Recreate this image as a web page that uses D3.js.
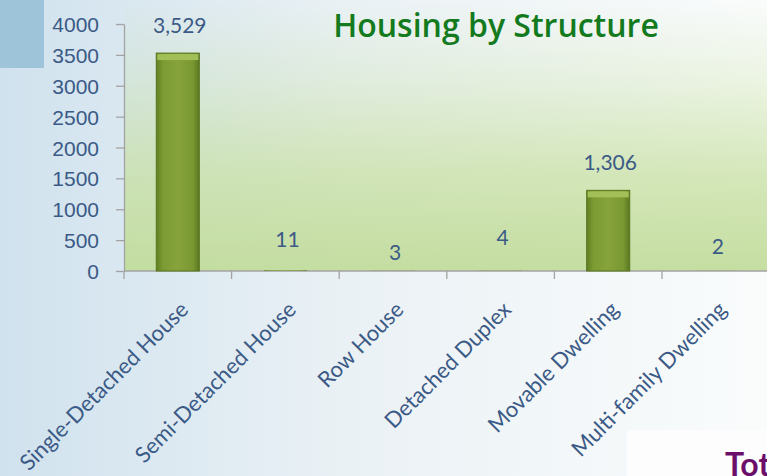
<!DOCTYPE html>
<html>
<head>
<meta charset="utf-8">
<script src="https://cdn.jsdelivr.net/npm/d3@7"></script>
<style>
  html, body { margin: 0; padding: 0; overflow: hidden; }
  svg { display: block; font-family: Lato, "Open Sans", sans-serif; }
</style>
</head>
<body>
<svg id="chart" width="767" height="476"></svg>
<script>
/// Housing by Structure bar chart ///

const categories = ["Single-Detached House", "Semi-Detached House", "Row House",
                    "Detached Duplex", "Movable Dwelling", "Multi-family Dwelling"];
const counts = [3529, 11, 3, 4, 1306, 2];
const yTicks = [0, 500, 1000, 1500, 2000, 2500, 3000, 3500, 4000];
const title = "Housing by Structure";
const footerText = "Total";

const W = 767, H = 476;
const svg = d3.select("#chart");
const defs = svg.append("defs");

// gradients
let bg = defs.append("linearGradient").attr("id", "bg").attr("x1", 0).attr("x2", 1).attr("y1", 0).attr("y2", 0);
bg.append("stop").attr("offset", 0).attr("stop-color", "#d0e2ee");
bg.append("stop").attr("offset", 0.45).attr("stop-color", "#eaf1f5");
bg.append("stop").attr("offset", 1).attr("stop-color", "#fafcfc");

let plotBg = defs.append("linearGradient").attr("id", "plotBg").attr("x1", 0).attr("x2", 0).attr("y1", 0).attr("y2", 1);
plotBg.append("stop").attr("offset", 0).attr("stop-color", "#c6df9f").attr("stop-opacity", 0);
plotBg.append("stop").attr("offset", 0.3).attr("stop-color", "#c6df9f").attr("stop-opacity", 0.28);
plotBg.append("stop").attr("offset", 0.65).attr("stop-color", "#c6df9f").attr("stop-opacity", 0.72);
plotBg.append("stop").attr("offset", 1).attr("stop-color", "#c2dc9c").attr("stop-opacity", 0.95);

let barGrad = defs.append("linearGradient").attr("id", "barGrad").attr("x1", 0).attr("x2", 1).attr("y1", 0).attr("y2", 0);
barGrad.append("stop").attr("offset", 0).attr("stop-color", "#5f7f22");
barGrad.append("stop").attr("offset", 0.15).attr("stop-color", "#7c9b33");
barGrad.append("stop").attr("offset", 0.5).attr("stop-color", "#86a33c");
barGrad.append("stop").attr("offset", 0.85).attr("stop-color", "#7a9832");
barGrad.append("stop").attr("offset", 1).attr("stop-color", "#5a7820");

svg.append("rect").attr("width", W).attr("height", H).attr("fill", "url(#bg)");

// top-left blue block
svg.append("rect").attr("x", 0).attr("y", 0).attr("width", 44).attr("height", 68).attr("fill", "#9dc4d9");

let x = d3.scaleBand().domain(categories).range([124, 769.6]).paddingInner(0.6).paddingOuter(0.3);
let y = d3.scaleLinear().domain([0, 4000]).range([271, 24]);
let edge = d => x(d) - x.step() * x.paddingOuter();

// plot area
svg.append("rect").attr("x", 124).attr("y", 0).attr("width", W - 124).attr("height", y(0))
    .attr("fill", "url(#plotBg)");

// y axis
let yAxis = svg.append("g").attr("transform", "translate(124,0)")
    .call(d3.axisLeft(y).tickValues(yTicks).tickSize(8).tickSizeOuter(0).tickPadding(17).tickFormat(d3.format("d")));
yAxis.select(".domain").attr("stroke", "#a3a3a3").attr("stroke-width", 1.3);
yAxis.selectAll(".tick line").attr("stroke", "#a3a3a3").attr("stroke-width", 1.3);
yAxis.selectAll(".tick text").attr("fill", "#3b5a86").style("font-size", "21px").attr("dy", "0.36em");

// x axis (ticks between categories)
let xAxis = svg.append("g");
xAxis.append("line").attr("x1", 124).attr("x2", W).attr("y1", y(0)).attr("y2", y(0))
    .attr("stroke", "#a3a3a3").attr("stroke-width", 1.3);
xAxis.selectAll(".xtick").data(categories).enter().append("line")
    .attr("x1", edge).attr("x2", edge)
    .attr("y1", y(0)).attr("y2", y(0) + 8)
    .attr("stroke", "#a3a3a3").attr("stroke-width", 1.3);

xAxis.selectAll(".xlabel").data(categories).enter().append("text")
    .attr("transform", d => "translate(" + (x(d) + x.bandwidth() / 2 + 12) + ",311) rotate(-45)")
    .attr("text-anchor", "end")
    .attr("fill", "#3b5a86")
    .style("font-size", "22px")
    .text(d => d);

// bars
let barG = svg.append("g");
barG.selectAll(".bar").data(categories).enter().append("rect")
    .attr("x", d => x(d))
    .attr("y", (d, i) => y(counts[i]))
    .attr("width", x.bandwidth())
    .attr("height", (d, i) => y(0) - y(counts[i]))
    .attr("fill", "url(#barGrad)")
    .attr("stroke", (d, i) => counts[i] > 100 ? "#58741f" : "none")
    .attr("stroke-width", 1);
// bevel highlight on top of tall bars
barG.selectAll(".bevel").data(categories.filter((d, i) => counts[i] > 100)).enter().append("rect")
    .attr("x", d => x(d) + 1)
    .attr("y", d => y(counts[categories.indexOf(d)]) + 1)
    .attr("width", x.bandwidth() - 2)
    .attr("height", 6)
    .attr("fill", "#a3bf58");

// value labels
let labelNudge = [0, 3, -9, 6, 0, -3];
svg.append("g").selectAll("text").data(categories).enter().append("text")
    .attr("x", d => x(d) + x.bandwidth() / 2 + 2)
    .attr("y", (d, i) => y(counts[i]) - 20 - labelNudge[i])
    .attr("text-anchor", "middle")
    .attr("fill", "#3b5a86")
    .style("font-size", "21px")
    .text((d, i) => d3.format(",")(counts[i]));

// title
svg.append("text").attr("x", 496).attr("y", 37).attr("text-anchor", "middle")
    .attr("fill", "#137a1d").style("font-family", "'Open Sans', sans-serif")
    .style("font-size", "32px").style("font-weight", "600")
    .text(title);

// bottom right box with cut-off text
svg.append("rect").attr("x", 627).attr("y", 430).attr("width", W - 627).attr("height", H - 430).attr("fill", "#fdfdfe");
svg.append("text").attr("x", 725).attr("y", 476).attr("fill", "#6b0f6b")
    .style("font-size", "32px").style("font-weight", "bold").text(footerText);
</script>
</body>
</html>
